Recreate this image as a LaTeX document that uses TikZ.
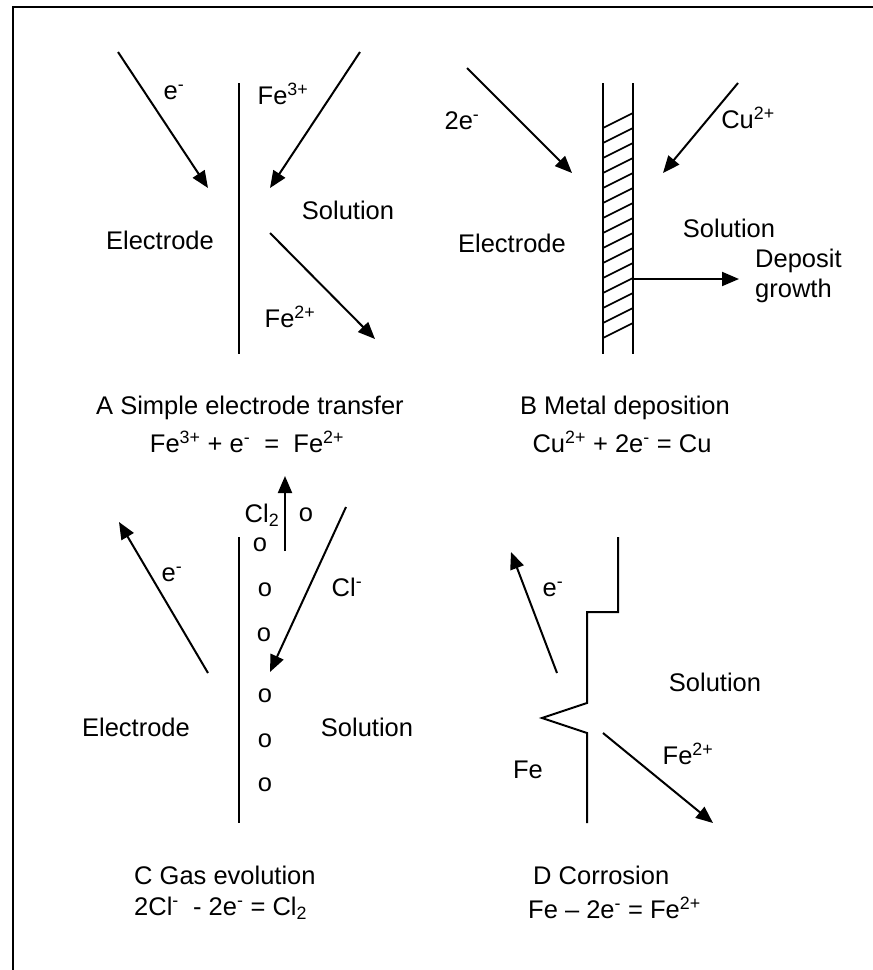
\documentclass[tikz,border=0pt]{standalone}
\usepackage{fontspec}
\setmainfont{Liberation Sans}
\usetikzlibrary{arrows.meta}
\begin{document}
\begin{tikzpicture}[x=1pt,y=-1pt,
  lbl/.style={font=\fontsize{25.5}{30}\selectfont, inner sep=0pt},
  arr/.style={line width=2pt, -{Triangle[length=17pt,width=14pt]}},
  ln/.style={line width=2pt}]
\useasboundingbox (0,0) rectangle (873,970);
% frame
\coordinate (f1) at (873,7);
\coordinate (f2) at (13,7);
\coordinate (f3) at (13,970);
\draw[ln] (f1) -- (f2) -- (f3);

% ---------- Panel A ----------
\coordinate (a1) at (239,83); \coordinate (a2) at (239,354);
\draw[ln] (a1) -- (a2);
\coordinate (aes) at (118,52); \coordinate (aet) at (208,188);
\draw[arr] (aes) -- (aet);
\coordinate (afs) at (360,52); \coordinate (aft) at (270,188);
\draw[arr] (afs) -- (aft);
\coordinate (a2s) at (270,233); \coordinate (a2t) at (375,339);
\draw[arr] (a2s) -- (a2t);
\node[lbl] (ae) at (174,92) {e\textsuperscript{-}};
\node[lbl] (af3) at (283,94) {Fe\textsuperscript{3+}};
\node[lbl] (asol) at (348,210) {Solution};
\node[lbl] (ael) at (160,240) {Electrode};
\node[lbl] (af2) at (290,317) {Fe\textsuperscript{2+}};
\node[lbl] (acap) at (250,408) {A Simple electrode transfer};
\node[lbl] (aeq) at (247,442) {Fe\textsuperscript{3+} + e\textsuperscript{-} \ = \ Fe\textsuperscript{2+}};

% ---------- Panel B ----------
\coordinate (b1) at (603,83); \coordinate (b2) at (603,354);
\coordinate (b3) at (633,83); \coordinate (b4) at (633,354);
\draw[ln] (b1) -- (b2);
\draw[ln] (b3) -- (b4);
\foreach \k in {0,...,14}{
  \draw[line width=1.6pt] (603,{128+15*\k}) -- (633,{113+15*\k});
}
\coordinate (bes) at (467,68); \coordinate (bet) at (572,173);
\draw[arr] (bes) -- (bet);
\coordinate (bcs) at (738,83); \coordinate (bct) at (663,173);
\draw[arr] (bcs) -- (bct);
\coordinate (bds) at (633,279); \coordinate (bdt) at (739,279);
\draw[arr] (bds) -- (bdt);
\node[lbl] (be) at (462,121) {2e\textsuperscript{-}};
\node[lbl] (bcu) at (748,118) {Cu\textsuperscript{2+}};
\node[lbl] (bsol) at (729,228) {Solution};
\node[lbl] (bel) at (512,243) {Electrode};
\node[lbl, align=left, anchor=west] (bdep) at (755,276) {Deposit\\growth};
\node[lbl] (bcap) at (625,408) {B Metal deposition};
\node[lbl] (beq) at (622,442) {Cu\textsuperscript{2+} + 2e\textsuperscript{-} = Cu};

% ---------- Panel C ----------
\coordinate (c1) at (239,537); \coordinate (c2) at (239,823);
\draw[ln] (c1) -- (c2);
\coordinate (ces) at (208,673); \coordinate (cet) at (119,522);
\draw[arr] (ces) -- (cet);
\coordinate (cgs) at (285,551); \coordinate (cgt) at (285,476);
\draw[arr] (cgs) -- (cgt);
\coordinate (ccs) at (346,507); \coordinate (cct) at (270,672);
\draw[arr] (ccs) -- (cct);
\node[lbl] (ce) at (172,574) {e\textsuperscript{-}};
\node[lbl] (ccl2) at (262,515) {Cl\textsubscript{2}};
\node[lbl] (ccl) at (347,587) {Cl\textsuperscript{-}};
\node[lbl] (co1) at (306,515) {o};
\node[lbl] (co2) at (260,545) {o};
\node[lbl] (co3) at (265,590) {o};
\node[lbl] (co4) at (264,635) {o};
\node[lbl] (co5) at (265,696) {o};
\node[lbl] (co6) at (265,741) {o};
\node[lbl] (co7) at (265,785) {o};
\node[lbl] (cel) at (136,727) {Electrode};
\node[lbl] (csol) at (367,727) {Solution};
\node[lbl, anchor=west] (ccap) at (134,875) {C Gas evolution};
\node[lbl, anchor=west] (ceq) at (134,908) {2Cl\textsuperscript{-} \ - 2e\textsuperscript{-} = Cl\textsubscript{2}};

% ---------- Panel D ----------
\coordinate (d1) at (618,537); \coordinate (d2) at (618,612);
\coordinate (d3) at (587,612); \coordinate (d4) at (587,703);
\coordinate (d5) at (542,718); \coordinate (d6) at (587,733);
\coordinate (d7) at (587,823);
\draw[ln, line join=miter] (d1) -- (d2) -- (d3) -- (d4) -- (d5) -- (d6) -- (d7);
\coordinate (des) at (557,673); \coordinate (det) at (511,552);
\draw[arr] (des) -- (det);
\coordinate (dfs) at (603,733); \coordinate (dft) at (713,823);
\draw[arr] (dfs) -- (dft);
\node[lbl] (de) at (553,589) {e\textsuperscript{-}};
\node[lbl] (dsol) at (715,682) {Solution};
\node[lbl] (df2) at (688,754) {Fe\textsuperscript{2+}};
\node[lbl] (dfe) at (528,770) {Fe};
\node[lbl, anchor=west] (dcap) at (533,875) {D Corrosion};
\node[lbl, anchor=west] (deq) at (528,908) {Fe -- 2e\textsuperscript{-} = Fe\textsuperscript{2+}};
\end{tikzpicture}
\end{document}
